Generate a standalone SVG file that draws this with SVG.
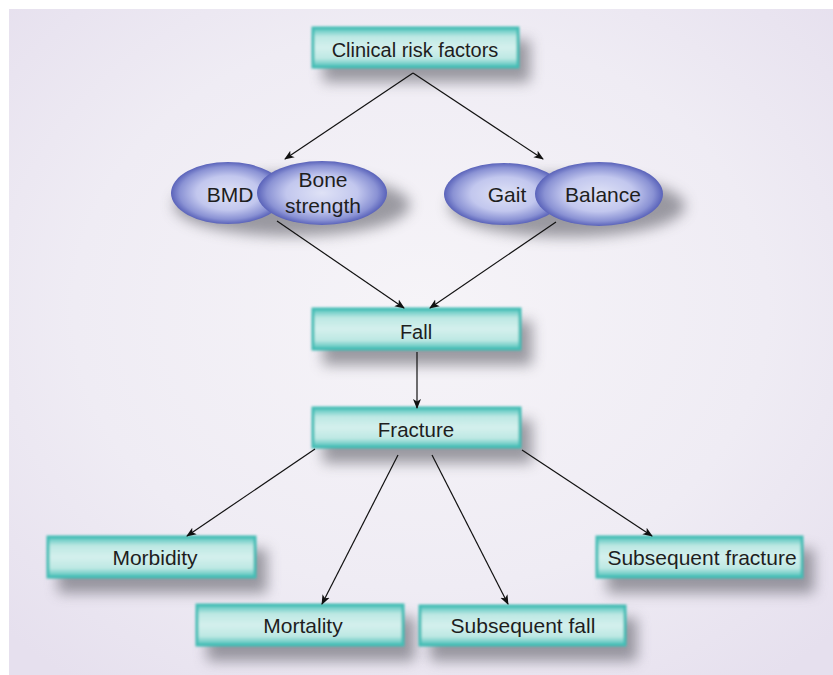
<svg xmlns="http://www.w3.org/2000/svg" width="833" height="675" viewBox="0 0 833 675">
<defs>
  <radialGradient id="bg" cx="0.5" cy="0.45" r="0.7">
    <stop offset="0" stop-color="#f6f4f8"/>
    <stop offset="0.6" stop-color="#efecf4"/>
    <stop offset="1" stop-color="#e6e0ee"/>
  </radialGradient>
  <linearGradient id="boxg" x1="0" y1="0" x2="0" y2="1">
    <stop offset="0" stop-color="#52c4bd"/>
    <stop offset="0.22" stop-color="#bde8e3"/>
    <stop offset="0.5" stop-color="#d4f0ed"/>
    <stop offset="0.78" stop-color="#bde8e3"/>
    <stop offset="1" stop-color="#4bc0b9"/>
  </linearGradient>
  <radialGradient id="ellg" cx="0.5" cy="0.5" r="0.5">
    <stop offset="0" stop-color="#dfe2f6"/>
    <stop offset="0.55" stop-color="#c2c7ee"/>
    <stop offset="0.85" stop-color="#8a92d4"/>
    <stop offset="1" stop-color="#5a63ba"/>
  </radialGradient>
  <filter id="shadow" x="-20%" y="-40%" width="150%" height="200%">
    <feGaussianBlur stdDeviation="7"/>
  </filter>
  <filter id="edge" x="-5%" y="-10%" width="110%" height="120%">
    <feGaussianBlur stdDeviation="0.8"/>
  </filter>
  <marker id="arr" viewBox="0 0 10 10" refX="9" refY="5" markerWidth="10" markerHeight="10" markerUnits="userSpaceOnUse" orient="auto">
    <path d="M0,1 L10,5 L0,9 L2.5,5 z" fill="#111"/>
  </marker>
  <style>
    .sh { fill: #5e5e68; opacity: 0.6; filter: url(#shadow); }
    .box { fill: url(#boxg); stroke: #45bdb5; stroke-width: 3; filter: url(#edge); }
    .ell { fill: url(#ellg); }
    .t { font-family: "Liberation Sans", Arial, sans-serif; fill: #1e1e1e; text-anchor: middle; }
    .conn line { stroke: #111; stroke-width: 1.2; marker-end: url(#arr); }
  </style>
</defs>
<rect x="0" y="0" width="833" height="675" fill="#ffffff"/>
<rect x="9" y="9" width="824" height="666" fill="url(#bg)"/>

<g id="clinical">
  <rect class="sh" x="323" y="40" width="207" height="42"/>
  <rect class="box" x="313" y="28" width="205" height="39"/>
  <text class="t" x="415" y="57" font-size="20">Clinical risk factors</text>
</g>

<g id="bmd-bone">
  <ellipse class="sh" cx="292" cy="205" rx="118" ry="31"/>
  <ellipse class="ell" cx="228" cy="193" rx="57" ry="31"/>
  <ellipse class="ell" cx="322" cy="193" rx="65" ry="32"/>
  <text class="t" x="230" y="202" font-size="21">BMD</text>
  <text class="t" x="323" y="187" font-size="21">Bone</text>
  <text class="t" x="323" y="213" font-size="21">strength</text>
</g>

<g id="gait-balance">
  <ellipse class="sh" cx="567" cy="206" rx="118" ry="31"/>
  <ellipse class="ell" cx="504" cy="194" rx="60" ry="31"/>
  <ellipse class="ell" cx="599" cy="194" rx="64" ry="32"/>
  <text class="t" x="507" y="202" font-size="21">Gait</text>
  <text class="t" x="603" y="202" font-size="21">Balance</text>
</g>

<g id="fall">
  <rect class="sh" x="323" y="321" width="209" height="44"/>
  <rect class="box" x="313" y="309" width="207" height="40"/>
  <text class="t" x="416" y="339" font-size="20">Fall</text>
</g>

<g id="fracture">
  <rect class="sh" x="323" y="420" width="209" height="43"/>
  <rect class="box" x="313" y="408" width="207" height="39"/>
  <text class="t" x="416" y="437" font-size="20.5">Fracture</text>
</g>

<g id="morbidity">
  <rect class="sh" x="58" y="549" width="209" height="44"/>
  <rect class="box" x="48" y="537" width="207" height="40"/>
  <text class="t" x="155" y="565" font-size="21">Morbidity</text>
</g>

<g id="mortality">
  <rect class="sh" x="207" y="617" width="208" height="44"/>
  <rect class="box" x="197" y="605" width="206" height="40"/>
  <text class="t" x="303" y="633" font-size="21">Mortality</text>
</g>

<g id="subsequent-fall">
  <rect class="sh" x="430" y="618" width="207" height="43"/>
  <rect class="box" x="420" y="606" width="205" height="39"/>
  <text class="t" x="523" y="633" font-size="21">Subsequent fall</text>
</g>

<g id="subsequent-fracture">
  <rect class="sh" x="607" y="549" width="207" height="44"/>
  <rect class="box" x="597" y="537" width="205" height="40"/>
  <text class="t" x="702" y="565" font-size="21">Subsequent fracture</text>
</g>

<g class="conn" id="connectors">
  <line x1="413" y1="73" x2="285" y2="159"/>
  <line x1="413" y1="73" x2="543" y2="159"/>
  <line x1="277" y1="221" x2="404" y2="308"/>
  <line x1="556" y1="222" x2="430" y2="308"/>
  <line x1="417" y1="352" x2="417" y2="408"/>
  <line x1="315" y1="449" x2="187" y2="536"/>
  <line x1="398" y1="455" x2="322" y2="604"/>
  <line x1="432" y1="455" x2="508" y2="604"/>
  <line x1="522" y1="450" x2="652" y2="536"/>
</g>
</svg>
